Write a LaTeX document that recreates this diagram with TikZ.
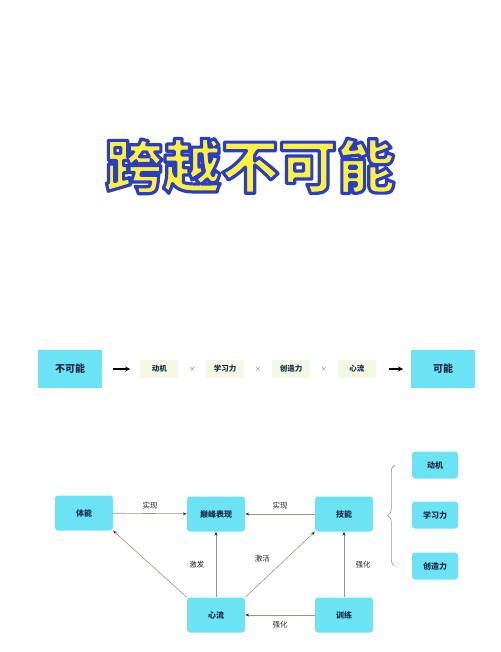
\documentclass[tikz,border=0pt]{standalone}
\usepackage{fontspec}
\newfontfamily\cjk{Noto Sans CJK SC}
\usepackage{xcolor}
\usetikzlibrary{arrows.meta, positioning, calc, decorations.pathreplacing}
\definecolor{boxcyan}{HTML}{6CE3F4}
\definecolor{factorgreen}{HTML}{F3FAE4}
\definecolor{linegray}{HTML}{9C9486}
\definecolor{titleyellow}{HTML}{FFF23C}
\definecolor{textnavy}{HTML}{1C2A48}
% fill in yellow, stroke the outline in blue
\newcommand{\outlinetitle}[1]{\special{pdf:code 2 Tr 3.2 w 1 j 0.165 0.235 0.784 RG}#1\special{pdf:code 0 Tr}}

\begin{document}
\begin{tikzpicture}[x=1pt, y=-1pt,
  endbox/.style={rectangle, fill=boxcyan, minimum width=64pt, minimum height=38pt, font=\cjk\bfseries\fontsize{10}{12}\selectfont, text=textnavy},
  factor/.style={rectangle, fill=factorgreen, minimum width=38pt, minimum height=18pt, inner sep=0pt, font=\cjk\bfseries\fontsize{7.5}{9}\selectfont, text=textnavy},
  timesmark/.style={minimum width=27pt, inner sep=0pt, font=\cjk\fontsize{6}{7}\selectfont, text=black!60},
  mainbox/.style={rectangle, rounded corners=3pt, fill=boxcyan, minimum width=58pt, minimum height=35pt, font=\cjk\bfseries\fontsize{8}{10}\selectfont, text=textnavy},
  sidebox/.style={rectangle, rounded corners=3pt, fill=boxcyan, minimum width=46pt, minimum height=27pt, font=\cjk\bfseries\fontsize{8}{10}\selectfont, text=textnavy},
  link/.style={draw=linegray, line width=0.6pt, -{Stealth[length=4pt, width=3pt, color=black!80]}},
  lbl/.style={font=\cjk\fontsize{7.5}{9}\selectfont, text=black!85}
]
\useasboundingbox (0,0) rectangle (500,652);

% title
\node[font=\cjk\bfseries\fontsize{58}{60}\selectfont, text=titleyellow] (title) at (250,166) {\outlinetitle{跨越不可能}};

% formula row
\node[endbox] (impossible) at (70,369) {不可能};
\node[factor, right=38pt of impossible] (f1) {动机};
\node[timesmark, right=0pt of f1] (x1) {×};
\node[factor, right=0pt of x1] (f2) {学习力};
\node[timesmark, right=0pt of f2] (x2) {×};
\node[factor, right=0pt of x2] (f3) {创造力};
\node[timesmark, right=0pt of f3] (x3) {×};
\node[factor, right=0pt of x3] (f4) {心流};
\node[endbox, right=35pt of f4] (possible) {可能};
\draw[-{Stealth[length=5pt, width=5pt]}, line width=1.2pt, shorten <=11pt, shorten >=10pt] (impossible) -- (f1);
\draw[-{Stealth[length=5pt, width=5pt]}, line width=1.2pt, shorten <=13pt, shorten >=8pt] (f4) -- (possible);

% relation diagram
\node[mainbox] (fitness) at (84,513) {体能};
\node[mainbox] (peak) at (216,514) {巅峰表现};
\node[mainbox] (skill) at (344,514) {技能};
\node[mainbox] (flow) at (216,615) {心流};
\node[mainbox] (training) at (344,615) {训练};
\node[sidebox] (s1) at (435,465) {动机};
\node[sidebox] (s2) at (435,515) {学习力};
\node[sidebox] (s3) at (435,566) {创造力};

\draw[link] (fitness) -- node[lbl, above=1pt] {实现} (peak);
\draw[link] (skill) -- node[lbl, above=1pt] {实现} (peak);
\draw[link] (flow) -- node[lbl, left=8pt, pos=0.5] {激发} (peak);
\draw[link] (flow.north east) -- node[lbl, above left=2pt and 3pt, pos=0.45] {激活} (skill.south west);
\draw[link, {Stealth[length=4pt, width=3pt, color=black!80]}-] (fitness.south east) -- (flow.north west);
\draw[link] (training) -- node[lbl, right=8pt] {强化} (skill);
\draw[link] (training) -- node[lbl, below=3pt] {强化} (flow);

% brace
\draw[linegray, line width=0.6pt, decorate, decoration={brace, amplitude=7pt}]
  ($(s3.west)+(-17,0)$) -- ($(s1.west)+(-17,0)$);
\end{tikzpicture}
\end{document}
